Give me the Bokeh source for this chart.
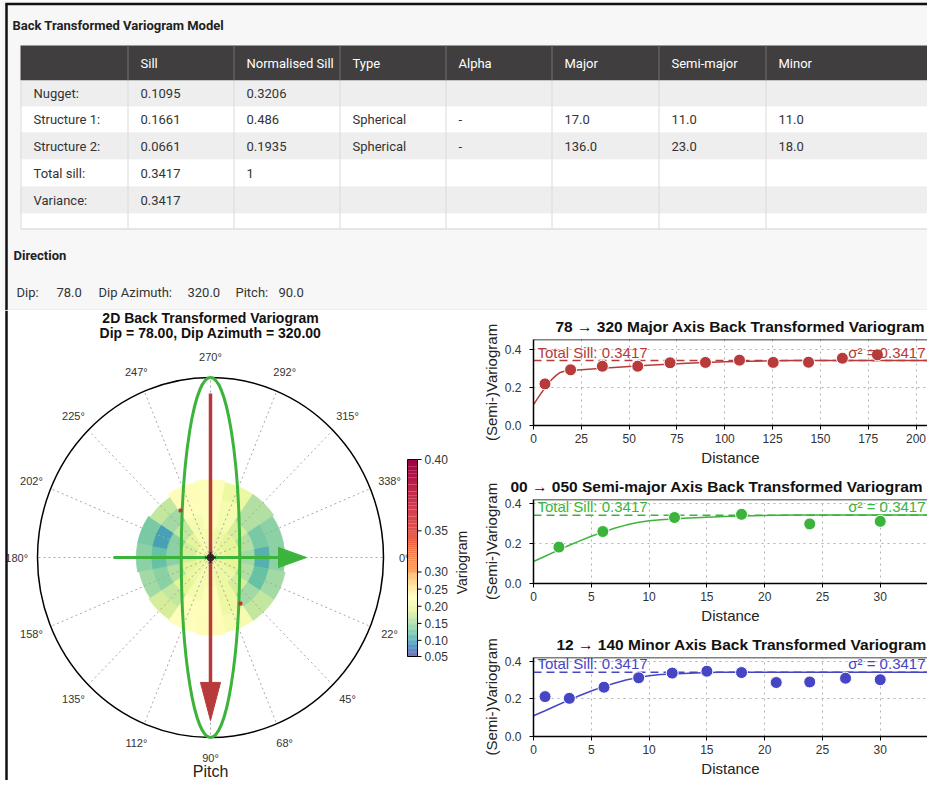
import numpy as np
from bokeh.plotting import figure
from bokeh.layouts import column, row
from bokeh.models import Range1d, FixedTicker, PrintfTickFormatter, Span, LinearColorMapper, ColumnDataSource
from bokeh.core.properties import value
from bokeh.embed import file_html
from bokeh.resources import INLINE

# ---------------------------------------------------------------- data
table_title = "Back Transformed Variogram Model"
col_headers = ["", "Sill", "Normalised Sill", "Type", "Alpha", "Major", "Semi-major", "Minor"]
row_labels = ["Nugget:", "Structure 1:", "Structure 2:", "Total sill:", "Variance:"]
sill_col = ["0.1095", "0.1661", "0.0661", "0.3417", "0.3417"]
norm_sill_col = ["0.3206", "0.486", "0.1935", "1", ""]
type_col = ["", "Spherical", "Spherical", "", ""]
alpha_col = ["", "-", "-", "", ""]
major_col = ["", "17.0", "136.0", "", ""]
semi_major_col = ["", "11.0", "23.0", "", ""]
minor_col = ["", "11.0", "18.0", "", ""]

dip = 78.0
dip_azimuth = 320.0
pitch = 90.0
total_sill = 0.3417
major_range = 136.0
semi_major_range = 23.0

major_lag = [6.0, 19.4, 36.0, 54.5, 71.4, 89.9, 107.7, 125.3, 143.8, 161.5, 179.8]
major_gamma = [0.219, 0.293, 0.312, 0.312, 0.330, 0.332, 0.344, 0.332, 0.333, 0.354, 0.372]
semi_lag = [2.2, 6.0, 12.2, 18.0, 23.9, 30.0]
semi_gamma = [0.182, 0.260, 0.330, 0.346, 0.298, 0.311]
minor_lag = [1.0, 3.1, 6.1, 9.1, 12.0, 15.0, 18.0, 21.0, 23.9, 27.0, 30.0]
minor_gamma = [0.212, 0.203, 0.262, 0.312, 0.337, 0.347, 0.340, 0.287, 0.290, 0.310, 0.302]

# model curves
major_model_h = [0, 2, 4, 6, 8, 10, 12, 14, 17, 25, 40, 60, 80, 100, 120, 136, 210]
major_model_g = [0.110, 0.140, 0.170, 0.198, 0.224, 0.247, 0.265, 0.279, 0.288, 0.294, 0.304,
                 0.317, 0.327, 0.335, 0.340, 0.342, 0.342]
semi_model_h = [0, 1, 2, 3, 4, 5, 6, 7, 8, 9, 10, 11, 13, 15, 17, 19, 21, 23, 35]
semi_model_g = [0.110, 0.136, 0.163, 0.189, 0.213, 0.236, 0.257, 0.276, 0.292, 0.305, 0.314,
                0.319, 0.326, 0.331, 0.336, 0.339, 0.341, 0.342, 0.342]
minor_model_h = [0, 1, 2, 3, 4, 5, 6, 7, 8, 9, 10, 11, 12, 14, 16, 18, 35]
minor_model_g = [0.110, 0.137, 0.165, 0.192, 0.218, 0.242, 0.264, 0.283, 0.300, 0.313, 0.323,
                 0.329, 0.332, 0.337, 0.341, 0.342, 0.342]

# 2D variogram map (polar sectors x lag rings)
sector_angles = [0, 22.5, 45, 67.5, 90, 112.5, 135, 157.5, 180, 202.5, 225, 247.5, 270, 292.5, 315, 337.5]
sector_labels = ["0°", "22°", "45°", "68°", "90°", "112°", "135°", "158°",
                 "180°", "202°", "225°", "247°", "270°", "292°", "315°", "338°"]
ring_edges = [0.0, 0.086, 0.172, 0.258, 0.344]
sector_outer = [0.43, 0.44, 0.44, 0.44, 0.45, 0.44, 0.43, 0.42, 0.43, 0.43, 0.42, 0.44, 0.45, 0.44, 0.44, 0.43]
map_values = [
    [0.20, 0.19, 0.15, 0.11, 0.14],
    [0.20, 0.19, 0.16, 0.12, 0.15],
    [0.20, 0.20, 0.18, 0.15, 0.17],
    [0.21, 0.20, 0.20, 0.20, 0.21],
    [0.21, 0.21, 0.22, 0.22, 0.23],
    [0.21, 0.21, 0.21, 0.22, 0.22],
    [0.20, 0.20, 0.19, 0.17, 0.18],
    [0.20, 0.19, 0.16, 0.14, 0.15],
    [0.20, 0.18, 0.14, 0.12, 0.14],
    [0.20, 0.18, 0.14, 0.10, 0.13],
    [0.21, 0.19, 0.17, 0.15, 0.17],
    [0.21, 0.21, 0.21, 0.22, 0.23],
    [0.21, 0.21, 0.22, 0.22, 0.22],
    [0.21, 0.20, 0.21, 0.21, 0.20],
    [0.20, 0.19, 0.18, 0.16, 0.16],
    [0.20, 0.19, 0.16, 0.13, 0.14],
]
cbar_ticks = [0.05, 0.10, 0.15, 0.20, 0.25, 0.30, 0.35, 0.40]
cbar_tick_frac = [0.0, 0.082, 0.168, 0.255, 0.342, 0.429, 0.638, 1.0]

# ---------------------------------------------------------------- styles
UI_FONT = "Roboto"
PLOT_FONT = "Liberation Sans"
RED, GREEN, BLUE = "#b73b3b", "#3cb43c", "#4646c4"
spectral_r = ['#5e4fa2', '#3288bd', '#66c2a5', '#abdda4', '#e6f598', '#ffffbf',
              '#fee08b', '#fdae61', '#f46d43', '#d53e4f', '#9e0142']
_rgb = np.array([[int(c[i:i + 2], 16) for i in (1, 3, 5)] for c in spectral_r], float)
_pos = np.linspace(0, 1, len(spectral_r))
palette = ["#%02x%02x%02x" % tuple(int(round(np.interp(t, _pos, _rgb[:, k]))) for k in range(3))
           for t in np.linspace(0, 1, 256)]
mapper = LinearColorMapper(palette=palette, low=cbar_ticks[0], high=cbar_ticks[-1])

W_TOTAL, H_TOTAL = 927, 780

# ---------------------------------------------------------------- table panel
T = figure(width=W_TOTAL, height=310, x_range=Range1d(0, W_TOTAL), y_range=Range1d(310, 0),
           x_axis_location=None, y_axis_location=None, toolbar_location=None,
           output_backend="svg", min_border=0, outline_line_color=None,
           background_fill_color="#f7f7f7", border_fill_color="#f7f7f7")
T.grid.visible = False

col_edges = [20, 127, 233, 339, 445, 551, 658, 765, W_TOTAL]
head_top, head_bot = 45, 80
row_edges = [80, 106, 132, 159, 186, 213, 228]
row_fill = ["#eeeeee", "#ffffff", "#eeeeee", "#ffffff", "#eeeeee", "#ffffff"]

T.quad(left=[col_edges[0]], right=[col_edges[-1]], top=[head_top], bottom=[head_bot],
       fill_color="#403e3f", line_color=None)
T.quad(left=[col_edges[0]] * 6, right=[col_edges[-1]] * 6, top=row_edges[:-1], bottom=row_edges[1:],
       fill_color=row_fill, line_color=None)
sep_x = [c + 0.5 for c in col_edges[:-1]]
T.segment(x0=sep_x[1:], y0=[head_top] * 7, x1=sep_x[1:], y1=[head_bot] * 7, line_color="#737171", line_width=1)
T.segment(x0=sep_x, y0=[head_bot] * 8, x1=sep_x, y1=[row_edges[-1]] * 8, line_color="#dadada", line_width=1)
T.segment(x0=[col_edges[0]], y0=[row_edges[-1] + 0.5], x1=[col_edges[-1]], y1=[row_edges[-1] + 0.5],
          line_color="#d2d2d2", line_width=1)

T.text(x=[c + 13 for c in col_edges[:-1]], y=[(head_top + head_bot) / 2] * 8, text=col_headers,
       text_font=value(UI_FONT), text_font_size="13px", text_color="white", text_baseline="middle")
table_cols = [row_labels, sill_col, norm_sill_col, type_col, alpha_col, major_col, semi_major_col, minor_col]
tx, ty, tt = [], [], []
for i, col in enumerate(table_cols):
    for j, s in enumerate(col):
        tx.append(col_edges[i] + 13)
        ty.append((row_edges[j] + row_edges[j + 1]) / 2)
        tt.append(s)
T.text(x=tx, y=ty, text=tt, text_font=value(UI_FONT), text_font_size="13px",
       text_color="#333333", text_baseline="middle")

T.text(x=[12], y=[25], text=[table_title], text_font=value(UI_FONT), text_font_size="13px",
       text_font_style="bold", text_color="#222222", text_baseline="middle")
T.text(x=[13], y=[255], text=["Direction"], text_font=value(UI_FONT), text_font_size="13px",
       text_font_style="bold", text_color="#222222", text_baseline="middle")
dir_text = ["Dip:", f"{dip:.1f}", "Dip Azimuth:", f"{dip_azimuth:.1f}", "Pitch:", f"{pitch:.1f}"]
dir_x = [16, 56, 98, 187, 235, 278]
T.text(x=dir_x, y=[292] * 6, text=dir_text, text_font=value(UI_FONT), text_font_size="13px",
       text_color="#333333", text_baseline="middle")
# window frame lines
T.segment(x0=[6, 5], y0=[3, 3.5], x1=[6, W_TOTAL], y1=[310, 3.5], line_color="#111111", line_width=2.5)
T.segment(x0=[7], y0=[309.5], x1=[W_TOTAL], y1=[309.5], line_color="#e6e6e6", line_width=1)

# ---------------------------------------------------------------- polar panel
CX, CY, SX, SY = 210, 557, 173, 180      # layout: centre (px) and px per unit radius


def X(px):
    return (px - CX) / SX


def Y(py):
    return (CY - py) / SY


P = figure(width=470, height=470, x_range=Range1d(X(0), X(470)), y_range=Range1d(Y(780), Y(310)),
           x_axis_location=None, y_axis_location=None, toolbar_location=None,
           output_backend="svg", min_border=0, outline_line_color=None,
           background_fill_color="white", border_fill_color="white")
P.grid.visible = False

cell = dict(r0=[], r1=[], a0=[], a1=[], v=[])
for i, ang in enumerate(sector_angles):
    for j in range(len(ring_edges)):
        cell["r0"].append(ring_edges[j])
        cell["r1"].append(ring_edges[j + 1] if j + 1 < len(ring_edges) else sector_outer[i])
        cell["a0"].append(np.deg2rad(-ang - 11.25))
        cell["a1"].append(np.deg2rad(-ang + 11.25))
        cell["v"].append(map_values[i][j])
P.annular_wedge(x=0, y=0, inner_radius="r0", outer_radius="r1", start_angle="a0", end_angle="a1",
                fill_color={"field": "v", "transform": mapper},
                line_color={"field": "v", "transform": mapper}, line_width=0.6,
                source=ColumnDataSource(cell))

th = np.deg2rad(sector_angles)
P.segment(x0=[0] * 16, y0=[0] * 16, x1=list(np.cos(th)), y1=list(-np.sin(th)),
          line_color="#a8a8a8", line_width=1, line_dash="2 3")
P.ellipse(x=0, y=0, width=2, height=2, fill_color=None, line_color="black", line_width=1.5)
P.text(x=list(1.12 * np.cos(th)), y=list(-1.115 * np.sin(th)), text=sector_labels,
       text_font=value(PLOT_FONT), text_font_size="11px", text_color="#333333",
       text_align="center", text_baseline="middle")

# range ellipse and axes arrows
P.ellipse(x=0, y=0, width=2 * semi_major_range / major_range, height=2, fill_color=None,
          line_color=GREEN, line_width=3)
P.segment(x0=[-0.561], y0=[0], x1=[0.40], y1=[0], line_color=GREEN, line_width=3)
P.patch(x=[0.393, 0.393, 0.555], y=[0.056, -0.056, 0], fill_color=GREEN, line_color=GREEN)
P.segment(x0=[0], y0=[0.911], x1=[0], y1=[-0.70], line_color=RED, line_width=3.5)
P.patch(x=[-0.058, 0.058, 0], y=[-0.694, -0.694, -0.906], fill_color=RED, line_color=RED)
P.scatter(x=[-0.173, 0.173], y=[0.261, -0.256], size=3, marker="square", color=RED)
P.scatter(x=[0], y=[0], size=7, color="#4a2a2a")
P.scatter(x=[0], y=[0], size=11, marker="cross", line_color="#222222", line_width=1.5)

# colour bar
levels = np.linspace(cbar_ticks[0], cbar_ticks[-1], 141)
fr = np.interp(levels, cbar_ticks, cbar_tick_frac)
yb0, yb1 = Y(656), Y(459)
ypos = yb0 + fr * (yb1 - yb0)
P.quad(left=X(407), right=X(417), bottom=list(ypos[:-1]), top=list(ypos[1:]),
       fill_color=[palette[int(round((v - cbar_ticks[0]) / (cbar_ticks[-1] - cbar_ticks[0]) * 255))]
                   for v in (levels[:-1] + levels[1:]) / 2],
       line_color=None)
P.quad(left=[X(407)], right=[X(417)], bottom=[yb0], top=[yb1], fill_color=None,
       line_color="black", line_width=1)
tick_y = list(yb0 + np.array(cbar_tick_frac) * (yb1 - yb0))
P.segment(x0=[X(417)] * 8, y0=tick_y, x1=[X(421)] * 8, y1=tick_y, line_color="black", line_width=1)
P.text(x=[X(424)] * 8, y=tick_y, text=[f"{t:.2f}" for t in cbar_ticks], text_font=value(PLOT_FONT),
       text_font_size="12px", text_color="#333333", text_baseline="middle")
P.text(x=[X(461)], y=[Y(562)], text=["Variogram"], angle=np.pi / 2, text_font=value(PLOT_FONT),
       text_font_size="14px", text_color="#222222", text_align="center", text_baseline="middle")

P.text(x=[X(210), X(210)], y=[Y(317), Y(332)],
       text=["2D Back Transformed Variogram", f"Dip = {dip:.2f}, Dip Azimuth = {dip_azimuth:.2f}"],
       text_font=value(PLOT_FONT), text_font_size="14px", text_font_style="bold", text_color="#111111",
       text_align="center", text_baseline="middle")
P.text(x=[X(210)], y=[Y(771)], text=["Pitch"], text_font=value(PLOT_FONT), text_font_size="16px",
       text_color="#222222", text_align="center", text_baseline="middle")
P.segment(x0=[X(6)], y0=[Y(310)], x1=[X(6)], y1=[Y(780)], line_color="#111111", line_width=2.5)


# ---------------------------------------------------------------- variogram panels
def vario(title, color, lag, gam, mh, mg, x_end, y_end, xticks, height, b_top, b_bottom, t_off):
    f = figure(width=W_TOTAL - 470, height=height, x_range=Range1d(0, x_end), y_range=Range1d(0, y_end),
               toolbar_location=None, output_backend="svg",
               min_border_left=63, min_border_right=0, min_border_top=b_top, min_border_bottom=b_bottom,
               outline_line_color=None, background_fill_color="white", border_fill_color="white")
    f.title.text = title
    f.title.align = "left"
    f.title.offset = t_off
    f.title.text_font = PLOT_FONT
    f.title.text_font_size = "15.5px"
    f.title.text_font_style = "bold"
    f.title.text_color = "#111111"
    f.xaxis.ticker = FixedTicker(ticks=xticks)
    f.yaxis.ticker = FixedTicker(ticks=[0.0, 0.2, 0.4])
    f.yaxis.formatter = PrintfTickFormatter(format="%.1f")
    for ax in (f.xaxis[0], f.yaxis[0]):
        ax.axis_line_color = "black"
        ax.axis_line_width = 1.5
        ax.major_tick_out = 4
        ax.major_tick_in = 0
        ax.major_tick_line_color = "black"
        ax.minor_tick_line_color = None
        ax.major_label_text_font = PLOT_FONT
        ax.major_label_text_font_size = "12px"
        ax.major_label_text_color = "#333333"
        ax.axis_label_text_font = PLOT_FONT
        ax.axis_label_text_font_size = "15px"
        ax.axis_label_text_font_style = "normal"
        ax.axis_label_text_color = "#222222"
    f.xaxis.axis_label = "Distance"
    f.yaxis.axis_label = "(Semi-)Variogram"
    f.xaxis.major_label_standoff = 4
    f.xaxis.axis_label_standoff = 3
    f.yaxis.major_label_standoff = 8
    f.yaxis.axis_label_standoff = 2
    f.grid.grid_line_color = "#b0b0b0"
    f.grid.grid_line_dash = "dotted"
    f.add_layout(Span(location=y_end, dimension="width", line_color="black", line_width=1.5))
    f.add_layout(Span(location=total_sill, dimension="width", line_color=color, line_width=1.5,
                      line_dash="8 5", level="underlay"))
    f.line(mh, mg, line_color=color, line_width=1.5)
    f.scatter(lag, gam, size=12, fill_color=color, line_color="white", line_width=1)
    f.text(x=[0], y=[total_sill], text=[f"Total Sill: {total_sill}"], x_offset=4,
           text_font=value(PLOT_FONT), text_font_size="15px", text_color=color, text_baseline="bottom")
    f.text(x=[x_end], y=[total_sill], text=[f"σ² = {total_sill}"], x_offset=-2, text_align="right",
           text_font=value(PLOT_FONT), text_font_size="15px", text_color=color, text_baseline="bottom")
    return f


V1 = vario("78 → 320 Major Axis Back Transformed Variogram", RED, major_lag, major_gamma,
           major_model_h, major_model_g, 206.0, 0.4526, [0, 25, 50, 75, 100, 125, 150, 175, 200],
           160, 29, 45, 22)
V2 = vario("00 → 050 Semi-major Axis Back Transformed Variogram", GREEN, semi_lag, semi_gamma,
           semi_model_h, semi_model_g, 34.09, 0.42, [0, 5, 10, 15, 20, 25, 30],
           158, 29, 45, -23)
V3 = vario("12 → 140 Minor Axis Back Transformed Variogram", BLUE, minor_lag, minor_gamma,
           minor_model_h, minor_model_g, 34.09, 0.42, [0, 5, 10, 15, 20, 25, 30],
           152, 28, 44, 23)

layout = column(T, row(P, column(V1, V2, V3)))
open("out.html", "w").write(file_html(layout, INLINE))
